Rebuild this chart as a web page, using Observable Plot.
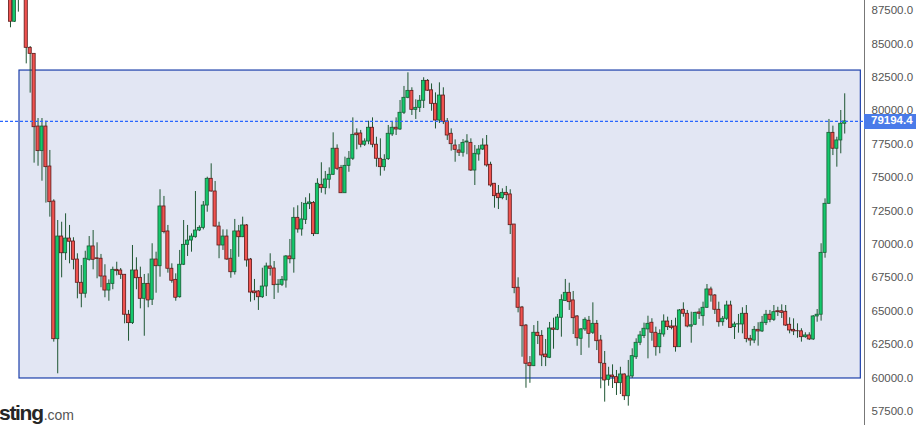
<!DOCTYPE html>
<html>
<head>
<meta charset="utf-8">
<script src="https://cdn.jsdelivr.net/npm/d3@7"></script>
<script src="https://cdn.jsdelivr.net/npm/@observablehq/plot@0.6"></script>
<style>
  body { margin: 0; background: #fff; }
  #chart { position: relative; width: 919px; height: 425px; overflow: hidden; }
  #chart svg { display: block; }
  #logo { position: absolute; left: -1px; top: 401px; white-space: nowrap; }
  #logo b { font: bold 21px "Liberation Sans", Arial, sans-serif; color: #262626; letter-spacing: -1.3px; }
  #logo span { font: 14px "Liberation Sans", Arial, sans-serif; color: #555; margin-left: 1px; }
  #tag { position: absolute; width: 52px; height: 15px; line-height: 15px; background: #4a7be9; color: #fff;
         font: bold 11.5px "Liberation Sans", Arial, sans-serif; box-sizing: border-box; padding-left: 7px; }
</style>
</head>
<body>
<div id="chart"><div id="logo"><b>sting</b><span>.com</span></div><div id="tag"></div></div>
<script>
// OHLC, one candle per entry
const opens = [89360,86650,88800,89200,88900,84700,84250,78810,76970,78810,75820,73200,62900,70580,69330,70430,70210,68860,67120,66300,
  68840,69840,68950,68920,67590,66540,67040,68090,68040,67720,64730,64100,68040,67490,65920,67040,65850,68860,68360,72830,
  70960,68170,67340,66040,68470,69960,70280,70530,71030,71230,72900,74900,73950,71330,69910,70580,68920,67910,70960,70530,
  71410,68860,66470,66470,66040,66840,68340,68190,66950,66970,67290,69090,68880,71980,71110,71830,73000,73100,70760,74450,
  74200,74830,75200,77150,75720,73820,75870,76400,78290,78290,77450,77690,78720,77450,76400,75770,76370,78220,78720,78590,
  79840,80960,81480,80060,80210,80740,82230,81520,80510,79260,81130,79190,78270,77390,77020,76850,77620,77590,75520,76720,
  77090,77390,75950,74530,73780,73450,73850,73730,71480,66750,65270,63920,61100,60880,63380,63150,61750,61510,63700,63600,
  64500,65760,66370,65800,64600,62930,63630,64280,63380,64050,62800,61060,59860,60180,60060,59610,60260,58630,60110,61550,
  62630,63130,63630,64130,63380,62300,63250,64220,63850,63850,62300,65100,64800,63840,63980,64900,64620,65250,66620,66170,
  65100,64170,64430,65420,63800,64000,64000,64800,62930,62800,63600,63480,64100,64730,64350,64990,64990,64950,63980,63600,
  63500,63490,63050,63180,62880,64600,64730,69360,73030,78340,77150,77770,79020]
const highs = [89740,88900,89600,89700,89100,84800,84250,79410,79410,79210,77020,73330,71780,71650,72280,71410,70490,69290,68410,69480,
  70580,71030,70110,69240,68470,67340,68290,68660,68190,67720,65050,69910,68990,68290,67740,67790,70040,69410,74080,73580,
  71410,68540,67790,69540,71780,71410,70780,73950,71380,73200,75020,76020,74700,71650,71080,71080,69610,71860,71410,72030,
  71480,68940,67370,66540,68210,68590,69290,68710,67360,67590,69160,70360,72730,72880,73130,73480,73780,73200,74900,76100,
  75450,75720,78340,77440,75900,76520,76940,79460,78640,78520,77890,79210,79460,78010,77890,76700,78890,79190,79460,80760,
  81810,82830,81710,80810,81130,82460,82330,82000,81330,82080,81710,79410,78640,77810,77460,77840,78200,77890,77390,77390,
  77890,78140,76140,74550,74400,74150,74330,74080,71480,67490,65350,64000,61600,63920,64230,63540,62880,64150,64470,64750,
  66220,67370,67090,66470,64670,63700,64500,64600,65620,64300,63180,61980,60800,60980,60560,60800,60300,61310,62180,62930,
  63480,64100,64620,64430,63800,63600,64720,64550,64300,64470,65120,65620,65050,64920,64920,65170,65670,66990,66790,66240,
  65670,64600,65740,65740,64170,64750,65250,65420,63180,63850,64130,64600,65050,65050,65420,65290,65470,65420,64500,64420,
  64050,63680,63380,63380,64670,65120,70040,73400,79340,78840,78010,80010,81260]
const lows = [86200,86600,87370,88400,83500,81310,76070,75840,74720,73080,72030,62680,60310,67490,68790,68540,68090,65920,65250,65970,
  68740,68090,67420,66750,66000,65740,66600,67640,67370,64050,62750,64000,66600,65170,63120,65250,65420,66340,67540,70780,
  67840,67090,65740,65970,68410,69090,69410,70460,70950,71080,72400,73900,71280,68920,69540,68790,67460,67700,69030,70500,
  68290,65670,65780,65050,65950,66090,67620,65870,66340,66840,66720,68540,67840,70830,70610,71480,72600,70580,70730,73820,
  73700,74150,75150,75520,73800,73800,75390,76270,77070,77220,77320,77450,77220,75770,75100,75470,76270,78070,78140,78520,
  79710,80890,79640,79340,79860,80160,81440,79960,78630,79040,78960,77770,76970,76140,76570,76520,76700,75450,74400,76220,
  77020,75770,74270,72700,72600,73330,73270,70730,66300,64870,61550,59230,59600,60850,62500,60850,60850,61450,62150,63540,
  63050,65720,65050,63250,62370,61680,63480,62230,63250,62050,59190,58190,59380,59210,58690,58760,58310,57890,59960,61380,
  62420,62950,61430,62750,61630,61810,63050,63550,63600,61930,62280,64550,63750,62600,63920,64380,63870,65200,65670,64750,
  63800,63870,64300,63700,62880,63350,63300,62630,62380,62570,62380,63400,63920,64130,64230,64600,64450,63850,63300,63170,
  62970,62680,62970,62800,62800,64170,64250,68960,73000,76640,75770,76770,78250]
const closes = [86650,88800,89200,88900,84700,84250,78760,76970,78810,75770,73150,62900,70580,69330,70430,70190,68840,67120,66300,68920,
  69840,68840,68900,67590,66540,67040,68090,67990,67720,64730,64100,68040,67460,65920,67040,65800,68860,68360,72830,70910,
  68170,67270,66000,68470,69960,70280,70580,71030,71230,72900,74900,73950,71330,69910,70580,68860,67910,70960,70530,71410,
  68790,66390,66340,66040,66840,68340,68170,66940,66980,67340,69090,68880,71980,71110,71860,73030,73130,70760,74530,74200,
  74850,75200,77150,75650,73820,75870,76400,78190,78160,77450,77690,78720,77450,76400,75770,76320,78270,78720,78590,79840,
  80960,81480,80060,80210,80740,82230,81490,80510,79260,81130,79140,78140,77490,77070,76850,77590,77690,75520,76770,77090,
  77390,75900,74400,73600,73450,73850,73670,71430,66720,65250,63870,61060,60880,63380,63130,61680,61550,63700,63600,64520,
  65820,66370,65670,64470,62970,63630,64350,63300,64050,62750,61100,59810,60180,60060,59610,60260,58630,60110,61630,62630,
  63180,63680,64050,63380,62300,63300,64220,63800,63750,62300,65050,64800,63850,63940,64870,64800,65250,66620,66170,65100,
  64170,64430,65420,63750,64000,64020,64800,62910,62800,63600,63480,64130,64730,64350,64920,64920,64870,63920,63550,63480,
  63490,63050,63180,62880,64600,64730,69360,73030,78340,77150,77770,79020,79194.4]

const yTicks = [57500,60000,62500,65000,67500,70000,72500,75000,77500,80000,82500,85000,87500]
// the drawn box: candle index span and price span
const zone = [{from: 2.29, to: 216.1, low: 59960, high: 83000}]
const xDomain = [-2.54, 217.03]
const yDomain = [56442, 88241]

const candles = opens.map((o, i) => ({
  i, open: o, high: highs[i], low: lows[i], close: closes[i], up: closes[i] >= o
}))
const lastClose = closes[closes.length - 1]

const chart = Plot.plot({
  width: 919,
  height: 425,
  marginLeft: 0,
  marginRight: 55,
  marginTop: 0,
  marginBottom: 0,
  style: {fontFamily: '"Liberation Sans", Arial, sans-serif', background: "#fff"},
  x: {domain: xDomain, axis: null},
  y: {domain: yDomain, axis: null},
  color: {type: "identity"},
  marks: [
    Plot.rect(zone, {x1: "from", x2: "to", y1: "low", y2: "high", fill: "#e2e6f3", stroke: "#1c3faa", strokeWidth: 1.2}),
    Plot.ruleX(candles, {x: "i", y1: "low", y2: "high", stroke: "#1f5633", clip: true}),
    Plot.rect(candles, {
      x1: d => d.i - 0.4,
      x2: d => d.i + 0.4,
      y1: "open",
      y2: "close",
      fill: d => d.up ? "#14c86c" : "#f0524f",
      stroke: d => d.up ? "#195c34" : "#5c1a1a",
      strokeWidth: 0.8,
      clip: true
    }),
    Plot.ruleY([lastClose], {stroke: "#2a66ff", strokeWidth: 1.2, strokeDasharray: "3,2"}),
    Plot.axisY({anchor: "right", ticks: yTicks, tickFormat: d => d.toFixed(1), tickSize: 0, tickPadding: 7, fontSize: 11.5, color: "#555"}),
    Plot.frame({anchor: "right", stroke: "#777"})
  ]
})

d3.select('#chart').insert(() => chart, '#logo')

// last price tag on the axis, placed through the chart's own scales
const yy = chart.scale("y").apply(lastClose)
const xr = chart.scale("x").apply(xDomain[1])
d3.select('#tag')
  .style('left', xr + 'px')
  .style('top', Math.round(yy - 7) + 'px')
  .text(lastClose.toFixed(1))
</script>
</body>
</html>
